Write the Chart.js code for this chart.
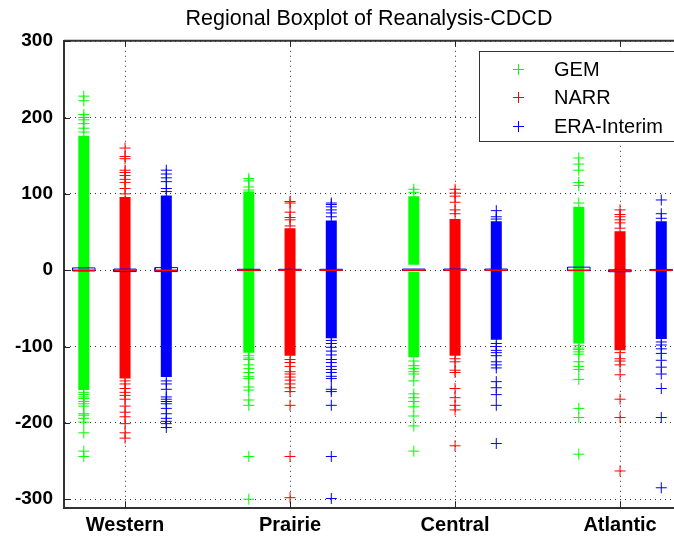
<!DOCTYPE html>
<html>
<head>
<meta charset="utf-8">
<title>Regional Boxplot of Reanalysis-CDCD</title>
<script src="https://cdn.jsdelivr.net/npm/chart.js@4/dist/chart.umd.min.js"></script>
<style>
  html, body { margin: 0; padding: 0; background: #ffffff; }
  #wrap { width: 674px; height: 537px; }
</style>
</head>
<body>
<div id="wrap"><canvas id="c" width="674" height="537"></canvas></div>
<script>
// ---- data ---------------------------------------------------------------
const categories = ['Western', 'Prairie', 'Central', 'Atlantic'];
const seriesNames = ['GEM', 'NARR', 'ERA-Interim'];
const yTicks = [-300, -200, -100, 0, 100, 200, 300];

// quartiles per region
const gemQ1  = [-1, -0.3, -0.3, -0.5];
const gemMed = [0, 0, 0, 0];
const gemQ3  = [3, 1.2, 1.5, 4];
const narrQ1  = [-1.8, -0.3, -0.3, -2];
const narrMed = [0, 0, 0, -0.5];
const narrQ3  = [1.5, 1.2, 1.5, 0.5];
const eraQ1  = [-1.8, -0.3, -0.3, -0.5];
const eraMed = [0, 0, 0, 0];
const eraQ3  = [3.4, 1.2, 1.5, 1];

// extent of the densely packed outliers (upper end, lower end)
const gemDenseTop = [176, 103, 97, 83];
const gemDenseBottom = [-157, -108, -114, -96];
const narrDenseTop = [96, 55, 67, 51];
const narrDenseBottom = [-142, -112, -112, -105];
const eraDenseTop = [98, 65, 64, 64];
const eraDenseBottom = [-140, -89, -91, -90];

// empty stretch of the dense outliers around the box (upper start, lower end)
const gemGapTop = [0, 0, 7, 0];
const gemGapBottom = [0, 0, -2, 0];
const narrGapTop = [0, 0, 0, 0];
const narrGapBottom = [0, 0, 0, 0];
const eraGapTop = [0, 0, 0, 0];
const eraGapBottom = [0, 0, 0, 0];

// separately visible outliers
const gemOutliers = [
  [228, 222, 204, 200, 197, 192, 186, 181, -160, -163, -166, -168, -172, -175, -178, -188, -190, -194, -199, -213, -237, -244],
  [120, 117, 109, 105, -112, -115, -117, -124, -129, -134, -139, -142, -153, -157, -170, -177, -244, -300],
  [106, 102, -119, -125, -129, -133, -136, -145, -162, -167, -172, -179, -191, -204, -237],
  [147, 139, 131, 115, 111, 88, -99, -102, -104, -107, -110, -120, -126, -130, -143, -181, -193, -241]
];
const narrOutliers = [
  [160, 149, 146, 131, 128, 124, 119, 115, 107, 100, -145, -149, -155, -160, -164, -169, -178, -186, -192, -201, -213, -220],
  [90, 88, 76, 69, 66, 58, -117, -121, -126, -133, -136, -140, -144, -149, -154, -159, -177, -244, -298],
  [106, 101, 97, 89, 79, 74, -116, -120, -131, -134, -155, -167, -177, -183, -230],
  [79, 73, 70, 66, 62, 55, -108, -116, -119, -124, -137, -169, -193, -263]
];
const eraOutliers = [
  [131, 126, 121, 116, 107, 103, -145, -149, -156, -166, -169, -172, -175, -181, -188, -194, -198, -201, -206],
  [88, 86, 83, 79, 75, 70, -92, -96, -101, -106, -111, -117, -121, -126, -130, -134, -139, -142, -156, -159, -177, -244, -299],
  [78, 70, 67, -96, -100, -105, -108, -112, -120, -124, -128, -146, -154, -163, -177, -227],
  [92, 74, 68, -94, -98, -103, -109, -118, -127, -136, -155, -193, -285]
];

// ---- styling --------------------------------------------------------------
const seriesColors = ['#00ff00', '#ff0000', '#0000ff'];
const boxColor = '#0000ff';
const medianColor = '#ff0000';
const FONT = 'Liberation Sans, Arial, Helvetica, sans-serif';
const groupOffsets = [-0.25, 0, 0.25];
const boxHalfWidth = 0.068;

const series = [
  { q1: gemQ1, med: gemMed, q3: gemQ3, top: gemDenseTop, bottom: gemDenseBottom, gapTop: gemGapTop, gapBottom: gemGapBottom, out: gemOutliers },
  { q1: narrQ1, med: narrMed, q3: narrQ3, top: narrDenseTop, bottom: narrDenseBottom, gapTop: narrGapTop, gapBottom: narrGapBottom, out: narrOutliers },
  { q1: eraQ1, med: eraMed, q3: eraQ3, top: eraDenseTop, bottom: eraDenseBottom, gapTop: eraGapTop, gapBottom: eraGapBottom, out: eraOutliers }
];

const datasets = [];
series.forEach((s, si) => {
  const color = seriesColors[si];
  categories.forEach((cat, ci) => {
    const x = ci + 1 + groupOffsets[si];
    const l = x - boxHalfWidth, r = x + boxHalfWidth;
    // median
    datasets.push({
      type: 'line', label: seriesNames[si] + ' median ' + cat,
      data: [{ x: l, y: s.med[ci] }, { x: r, y: s.med[ci] }],
      borderColor: medianColor, borderWidth: 1.5, pointRadius: 0, order: 0
    });
    // box
    datasets.push({
      type: 'line', label: seriesNames[si] + ' box ' + cat,
      data: [{ x: l, y: s.q1[ci] }, { x: r, y: s.q1[ci] }, { x: r, y: s.q3[ci] }, { x: l, y: s.q3[ci] }, { x: l, y: s.q1[ci] }],
      borderColor: boxColor, borderWidth: 1, pointRadius: 0, order: 1
    });
    // isolated outliers
    datasets.push({
      type: 'scatter', label: seriesNames[si] + ' outliers ' + cat,
      data: s.out[ci].map(v => ({ x: x, y: v })),
      pointStyle: 'cross', pointRadius: 5.5, borderColor: color, backgroundColor: color,
      borderWidth: 1, order: 2
    });
    // dense outlier run above and below the box
    datasets.push({
      type: 'line', label: seriesNames[si] + ' upper ' + cat,
      data: [{ x: x, y: s.gapTop[ci] }, { x: x, y: s.top[ci] }],
      borderColor: color, borderWidth: 11, borderCapStyle: 'butt', pointRadius: 0, order: 3
    });
    datasets.push({
      type: 'line', label: seriesNames[si] + ' lower ' + cat,
      data: [{ x: x, y: s.bottom[ci] }, { x: x, y: s.gapBottom[ci] }],
      borderColor: color, borderWidth: 11, borderCapStyle: 'butt', pointRadius: 0, order: 3
    });
  });
});

// frame, inward ticks and the boxed legend
const framePlugin = {
  id: 'frameAndLegend',
  afterDraw(chart) {
    const { ctx, chartArea: a, scales } = chart;
    ctx.save();
    ctx.strokeStyle = '#333';
    ctx.lineWidth = 2;
    ctx.beginPath();
    ctx.moveTo(a.left, a.top);
    ctx.lineTo(a.right, a.top);
    ctx.stroke();

    ctx.lineWidth = 1;
    ctx.strokeStyle = '#222';
    ctx.beginPath();
    yTicks.forEach(v => {
      const y = Math.round(scales.y.getPixelForValue(v)) + 0.5;
      ctx.moveTo(a.left, y); ctx.lineTo(a.left + 6, y);
    });
    categories.forEach((c, i) => {
      const x = Math.round(scales.x.getPixelForValue(i + 1)) + 0.5;
      ctx.moveTo(x, a.bottom); ctx.lineTo(x, a.bottom - 6);
      ctx.moveTo(x, a.top); ctx.lineTo(x, a.top + 6);
    });
    ctx.stroke();

    // legend
    const lx = 479.5, ly = 51.5, lw = 220, lh = 90;
    ctx.fillStyle = '#ffffff';
    ctx.fillRect(lx, ly, lw, lh);
    ctx.strokeStyle = '#333';
    ctx.lineWidth = 1;
    ctx.strokeRect(lx, ly, lw, lh);
    const rowY = [69, 97, 126];
    ctx.font = '20px ' + FONT;
    ctx.textBaseline = 'middle';
    ctx.textAlign = 'left';
    seriesNames.forEach((name, i) => {
      const y = rowY[i] + 0.5;
      ctx.strokeStyle = seriesColors[i];
      ctx.beginPath();
      ctx.moveTo(513, y); ctx.lineTo(524, y);
      ctx.moveTo(518.5, y - 5.5); ctx.lineTo(518.5, y + 5.5);
      ctx.stroke();
      ctx.fillStyle = '#000';
      ctx.fillText(name, 554, rowY[i] + 1);
    });
    ctx.restore();
  }
};

new Chart(document.getElementById('c'), {
  type: 'scatter',
  data: { datasets },
  options: {
    responsive: false,
    devicePixelRatio: 1,
    animation: false,
    events: [],
    layout: { padding: 0, autoPadding: false },
    plugins: {
      legend: { display: false },
      tooltip: { enabled: false },
      title: {
        display: true,
        text: 'Regional Boxplot of Reanalysis-CDCD',
        color: '#000',
        fullSize: false,
        font: { family: FONT, size: 21.5, weight: 'normal' },
        padding: { top: 6, bottom: 9 }
      }
    },
    scales: {
      x: {
        type: 'linear',
        min: 0.63,
        max: 4.327,
        afterBuildTicks(scale) { scale.ticks = categories.map((c, i) => ({ value: i + 1 })); },
        afterFit(scale) { scale.height = 29; scale.paddingLeft = 0; scale.paddingRight = 0; },
        ticks: {
          color: '#000',
          padding: 5,
          autoSkip: false,
          maxRotation: 0,
          font: { family: FONT, size: 20, weight: 'bold' },
          callback: v => categories[Math.round(v) - 1] || ''
        },
        grid: { color: '#333', lineWidth: 1, drawTicks: false },
        border: { display: true, color: '#333', width: 2, dash: [1, 4] }
      },
      y: {
        type: 'linear',
        min: -311.5,
        max: 300.5,
        afterBuildTicks(scale) { scale.ticks = yTicks.map(v => ({ value: v })); },
        afterFit(scale) { scale.width = 64; },
        ticks: {
          color: '#000',
          padding: 11,
          font: { family: FONT, size: 19, weight: 'bold' },
          callback: v => String(v)
        },
        grid: { color: '#333', lineWidth: 1, drawTicks: false },
        border: { display: true, color: '#333', width: 2, dash: [1, 4] }
      }
    }
  },
  plugins: [framePlugin]
});
</script>
</body>
</html>
